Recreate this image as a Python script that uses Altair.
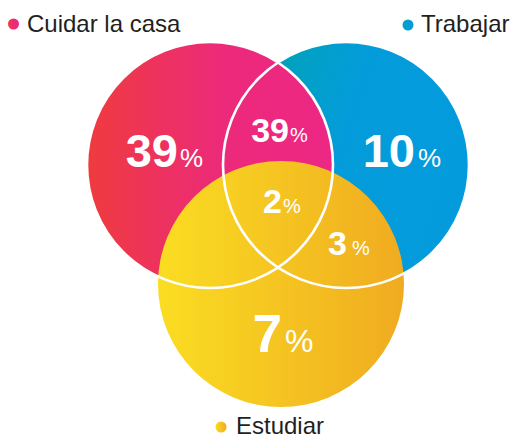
import altair as alt
import pandas as pd

# ---- data ----
categories = ["Cuidar la casa", "Trabajar", "Estudiar"]
cat_values = [39, 10, 7]
overlap_names = ["Cuidar la casa y Trabajar", "Trabajar y Estudiar", "Los tres"]
overlap_values = [39, 3, 2]

# ---- layout (page pixel coordinates) ----
circle_cx = [210, 346, 281]
circle_cy = [165, 165, 284]
circle_diam = 246
label_x = [178, 415, 282, 289, 347, 282]      # right edge of number
pct_gap = [2, 3, 3, 1, 5, 1]
label_y = [167, 167, 352, 142, 255, 213]      # baseline
num_size = [47, 47, 53, 34, 34, 34]
pct_size = [26, 26, 32, 20, 20, 20]
legend_x = [13.5, 408, 221]
legend_y = [24, 25, 427]
legend_tx = [27, 421, 236]
legend_ty = [32, 32, 434]

grad = {
    "Cuidar la casa": {"gradient": "linear", "x1": 0, "y1": 0, "x2": 1, "y2": 0,
                        "stops": [{"offset": 0, "color": "#EF3B3E"},
                                  {"offset": 0.55, "color": "#EC2A7A"},
                                  {"offset": 1, "color": "#EC2785"}]},
    "Trabajar": {"gradient": "linear", "x1": 0, "y1": 0, "x2": 1, "y2": 0.3,
                  "stops": [{"offset": 0, "color": "#00A6A6"},
                            {"offset": 0.55, "color": "#039CDA"},
                            {"offset": 1, "color": "#049BDC"}]},
    "Estudiar": {"gradient": "linear", "x1": 0, "y1": 0, "x2": 1, "y2": 0,
                  "stops": [{"offset": 0, "color": "#FADD22"},
                            {"offset": 1, "color": "#F0AB20"}]},
}

W, H = 502, 430
xs = alt.Scale(domain=[8, 8 + W], range=[0, W])
ys = alt.Scale(domain=[8, 8 + H], range=[0, H])
X = lambda f: alt.X(f, scale=xs, axis=None)
Y = lambda f: alt.Y(f, scale=ys, axis=None)

circles = pd.DataFrame({"cat": categories, "cx": circle_cx, "cy": circle_cy})

def circle_layer(cat):
    return alt.Chart(circles[circles.cat == cat]).mark_point(
        shape="circle", filled=True, size=circle_diam ** 2, fill=grad[cat],
        opacity=1, strokeWidth=0
    ).encode(x=X("cx:Q"), y=Y("cy:Q"))

outline = alt.Chart(circles[circles.cat != "Estudiar"]).mark_point(
    shape="circle", filled=False, size=circle_diam ** 2, stroke="white",
    strokeWidth=2.6, opacity=1
).encode(x=X("cx:Q"), y=Y("cy:Q"))

labels = pd.DataFrame({
    "region": categories + overlap_names,
    "value": cat_values + overlap_values,
    "x": label_x, "y": label_y,
    "ns": num_size, "ps": pct_size, "gap": pct_gap,
})
labels["num"] = labels["value"].astype(str)
labels["px"] = labels["x"] + labels["gap"]

nums = alt.Chart(labels).mark_text(
    align="right", baseline="alphabetic", color="white", fontWeight="bold",
    font="Liberation Sans"
).encode(x=X("x:Q"), y=Y("y:Q"), text="num:N", size=alt.Size("ns:Q", scale=None))

pcts = alt.Chart(labels).mark_text(
    align="left", baseline="alphabetic", color="white", font="Liberation Sans"
).encode(x=X("px:Q"), y=Y("y:Q"), text=alt.value("%"), size=alt.Size("ps:Q", scale=None))

leg = pd.DataFrame({"cat": categories, "x": legend_x, "y": legend_y,
                    "tx": legend_tx, "ty": legend_ty})

def dot_layer(cat):
    return alt.Chart(leg[leg.cat == cat]).mark_point(
        shape="circle", filled=True, size=121, fill=grad[cat], opacity=1, strokeWidth=0
    ).encode(x=X("x:Q"), y=Y("y:Q"))

leg_text = alt.Chart(leg).mark_text(
    align="left", baseline="alphabetic", color="#231F20", fontSize=24,
    font="Liberation Sans"
).encode(x=X("tx:Q"), y=Y("ty:Q"), text="cat:N")

chart = alt.layer(
    circle_layer("Trabajar"), circle_layer("Cuidar la casa"), circle_layer("Estudiar"),
    outline, nums, pcts,
    dot_layer("Cuidar la casa"), dot_layer("Trabajar"), dot_layer("Estudiar"), leg_text,
).properties(width=W, height=H, padding=0, autosize="none").configure_view(stroke=None)

chart.save("out.html", embed_options={"renderer": "svg", "actions": False})
